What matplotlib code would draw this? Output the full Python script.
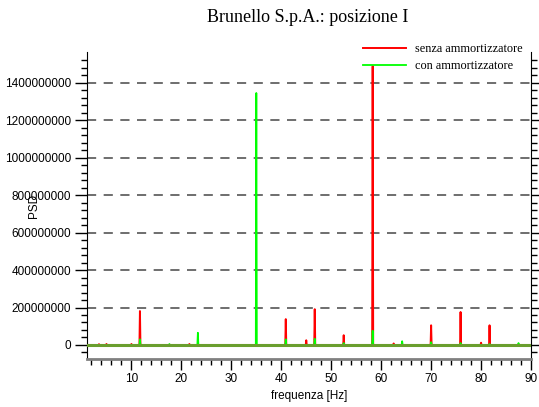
import numpy as np
import matplotlib.pyplot as plt

# picchi (Hz, PSD)
freq_senza = [3.5, 5.0, 10.0, 11.7, 21.6, 40.9, 45.0, 46.7, 52.5, 58.3, 62.5, 70.0, 75.9, 80.0, 81.7]
psd_senza = [4e6, 5e6, 5e6, 181e6, 5e6, 138e6, 25e6, 191e6, 52e6, 1489e6, 8e6, 105e6, 176e6, 12e6, 105e6]

freq_con = [11.7, 17.6, 23.3, 35.0, 40.9, 46.7, 52.5, 58.3, 64.2, 70.0, 75.9, 81.7, 87.5]
psd_con = [30e6, 5e6, 65e6, 1346e6, 30e6, 33e6, 10e6, 76e6, 20e6, 15e6, 10e6, 5e6, 10e6]

y_ticks = [0, 200000000, 400000000, 600000000, 800000000, 1000000000, 1200000000, 1400000000]
x_ticks = [10, 20, 30, 40, 50, 60, 70, 80, 90]

# spettro su griglia di 0.1 Hz
f = np.round(np.arange(1.0, 90.01, 0.1), 1)

def spettro(fp, vp):
    s = np.zeros_like(f)
    for a, b in zip(fp, vp):
        s[np.argmin(np.abs(f - a))] = b
    return s

fig = plt.figure(figsize=(5.39, 4.07), dpi=100)
ax = fig.add_axes([86.5/539, 48/407, (531-86.5)/539, (359-52)/407])

ax.plot(f, spettro(freq_senza, psd_senza), color='#ff0000', lw=1.4, label='senza ammortizzatore', zorder=3)
ax.plot(f, spettro(freq_con, psd_con), color='#00ff00', lw=1.3, label='con ammortizzatore', zorder=4)
# linea di base un po' piu' scura, come nell'originale
ax.plot(f, spettro([], []), color='#6a9e2e', lw=2.2, zorder=4.5)

ax.set_xlim(1, 90)
ax.set_ylim(-75e6, 1565e6)
ax.set_xticks(x_ticks)
ax.set_xticks(np.arange(2, 90, 2), minor=True)
ax.set_yticks(y_ticks)
ax.set_yticks(np.arange(-40e6, 1560e6, 40e6), minor=True)
ax.set_yticklabels([str(v) for v in y_ticks])
ax.grid(axis='y', which='major', ls=(0, (5.5, 4.5)), color='#555555', lw=1.2, zorder=1)

for lab in ax.get_xticklabels() + ax.get_yticklabels():
    lab.set_family('Liberation Sans')
    lab.set_fontsize(8.5)

ax.tick_params(axis='x', which='major', direction='out', length=8, width=1, pad=2)
ax.tick_params(axis='x', which='minor', direction='out', length=4, width=1)
ax.tick_params(axis='y', which='major', direction='out', length=9, width=1, pad=2, right=True)
ax.tick_params(axis='y', which='minor', direction='out', length=4, width=1, right=True)

ax.spines['top'].set_visible(False)
ax.spines['bottom'].set_color('#808080')
ax.spines['bottom'].set_linewidth(2)

ax.set_xlabel('frequenza [Hz]', family='Liberation Sans', fontsize=8.5)
ax.set_ylabel('PSD', family='Liberation Sans', fontsize=8.5)
ax.yaxis.set_label_coords(-0.105, 0.5)

fig.text(308/539, 1 - 18/407, 'Brunello S.p.A.: posizione I', family='Liberation Serif',
         fontsize=13, ha='center', va='center')

fig.legend(loc='upper left', bbox_to_anchor=(358/539, 1 - 38/407), frameon=False,
           prop={'family': 'Liberation Serif', 'size': 8.8}, handlelength=3.5,
           handletextpad=0.8, labelspacing=0.45, borderaxespad=0)

fig.savefig('out.png', dpi=100)
